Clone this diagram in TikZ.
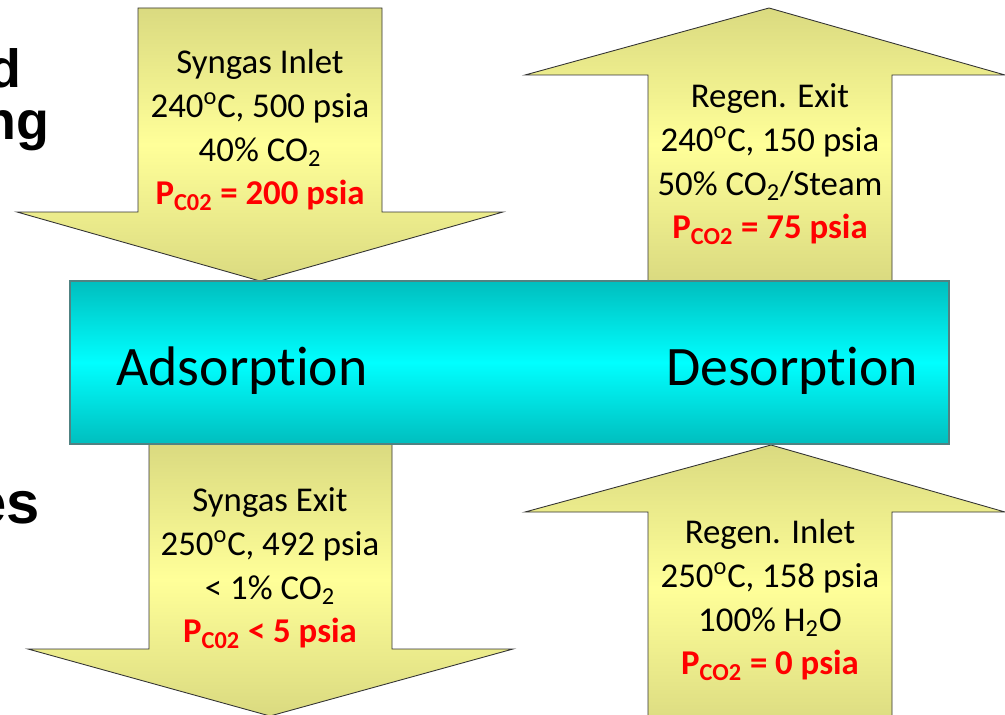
\documentclass[tikz,border=0pt]{standalone}
\usepackage{fontspec}
\setmainfont{Carlito}[Ligatures=TeX, RawFeature={-liga;-clig;-calt;-dlig}]
\newfontfamily\headfont{Liberation Sans}
\definecolor{arrowdark}{RGB}{218,218,128}
\definecolor{arrowlight}{RGB}{255,255,153}
\definecolor{bardark}{RGB}{0,190,190}
\definecolor{barlight}{RGB}{0,255,255}
\definecolor{baredge}{RGB}{80,130,130}
\definecolor{pred}{RGB}{255,0,0}

\begin{document}
\begin{tikzpicture}[
          x=0.2mm, y=-0.2mm,
          flow/.style={draw=black!80, line width=0.5pt, top color=arrowdark,
            bottom color=arrowdark, middle color=arrowlight},
          bed/.style={draw=baredge, line width=0.6pt, top color=bardark,
            bottom color=bardark, middle color=barlight},
          info/.style={align=center, inner sep=0pt,
            font=\fontsize{19.8}{24.9}\selectfont},
          stage/.style={anchor=base, inner sep=0pt,
            font=\fontsize{31.7}{38}\selectfont},
          cut/.style={anchor=base east, inner sep=0pt,
            font=\headfont\bfseries\fontsize{30.6}{36}\selectfont}
        ]
        \useasboundingbox (0,0) rectangle (1005,714);
        \clip (0,0) rectangle (1005,714);

        \draw[flow] (138,8) -- (382,8) -- (382,212) -- (503,212) -- (260,281)
          -- (17,212) -- (138,212) -- cycle;
        \draw[flow] (769,8) -- (1005,75) -- (892,75) -- (892,281) -- (648,281)
          -- (648,75) -- (525,75) -- cycle;
        \draw[flow] (149,444) -- (392,444) -- (392,649) -- (513,649) -- (270,716)
          -- (28,649) -- (149,649) -- cycle;
        \draw[flow] (771,445) -- (1005,512) -- (892,512) -- (892,730) -- (648,730)
          -- (648,512) -- (525,512) -- cycle;

        \draw[bed] (70,281) rectangle (949,444);

        \node[stage] (ads) at (242,385) {Adsorption};
        \node[stage] (des) at (792,385) {Desorption};

        \node[info] (synin) at (260,130) {Syngas Inlet\\240\textsuperscript{o}C, 500 psia\\40\% CO\textsubscript{2}\\
          {\color{pred}\bfseries P\textsubscript{C02} = 200 psia}};
        \node[info] (regout) at (770,164) {Regen. Exit\\240\textsuperscript{o}C, 150 psia\\50\% CO\textsubscript{2}/Steam\\
          {\color{pred}\bfseries P\textsubscript{CO2} = 75 psia}};
        \node[info] (synout) at (270,568) {Syngas Exit\\250\textsuperscript{o}C, 492 psia\\< 1\% CO\textsubscript{2}\\
          {\color{pred}\bfseries P\textsubscript{C02} < 5 psia}};
        \node[info] (regin) at (770,600) {Regen. Inlet\\250\textsuperscript{o}C, 158 psia\\100\% H\textsubscript{2}O\\
          {\color{pred}\bfseries P\textsubscript{CO2} = 0 psia}};

        \node[cut] (frag1) at (22,87) {d};
        \node[cut] (frag2) at (50,139) {ng};
        \node[cut, font=\headfont\bfseries\fontsize{34}{40}\selectfont] (frag3) at (40,523) {es};
\end{tikzpicture}
\end{document}
